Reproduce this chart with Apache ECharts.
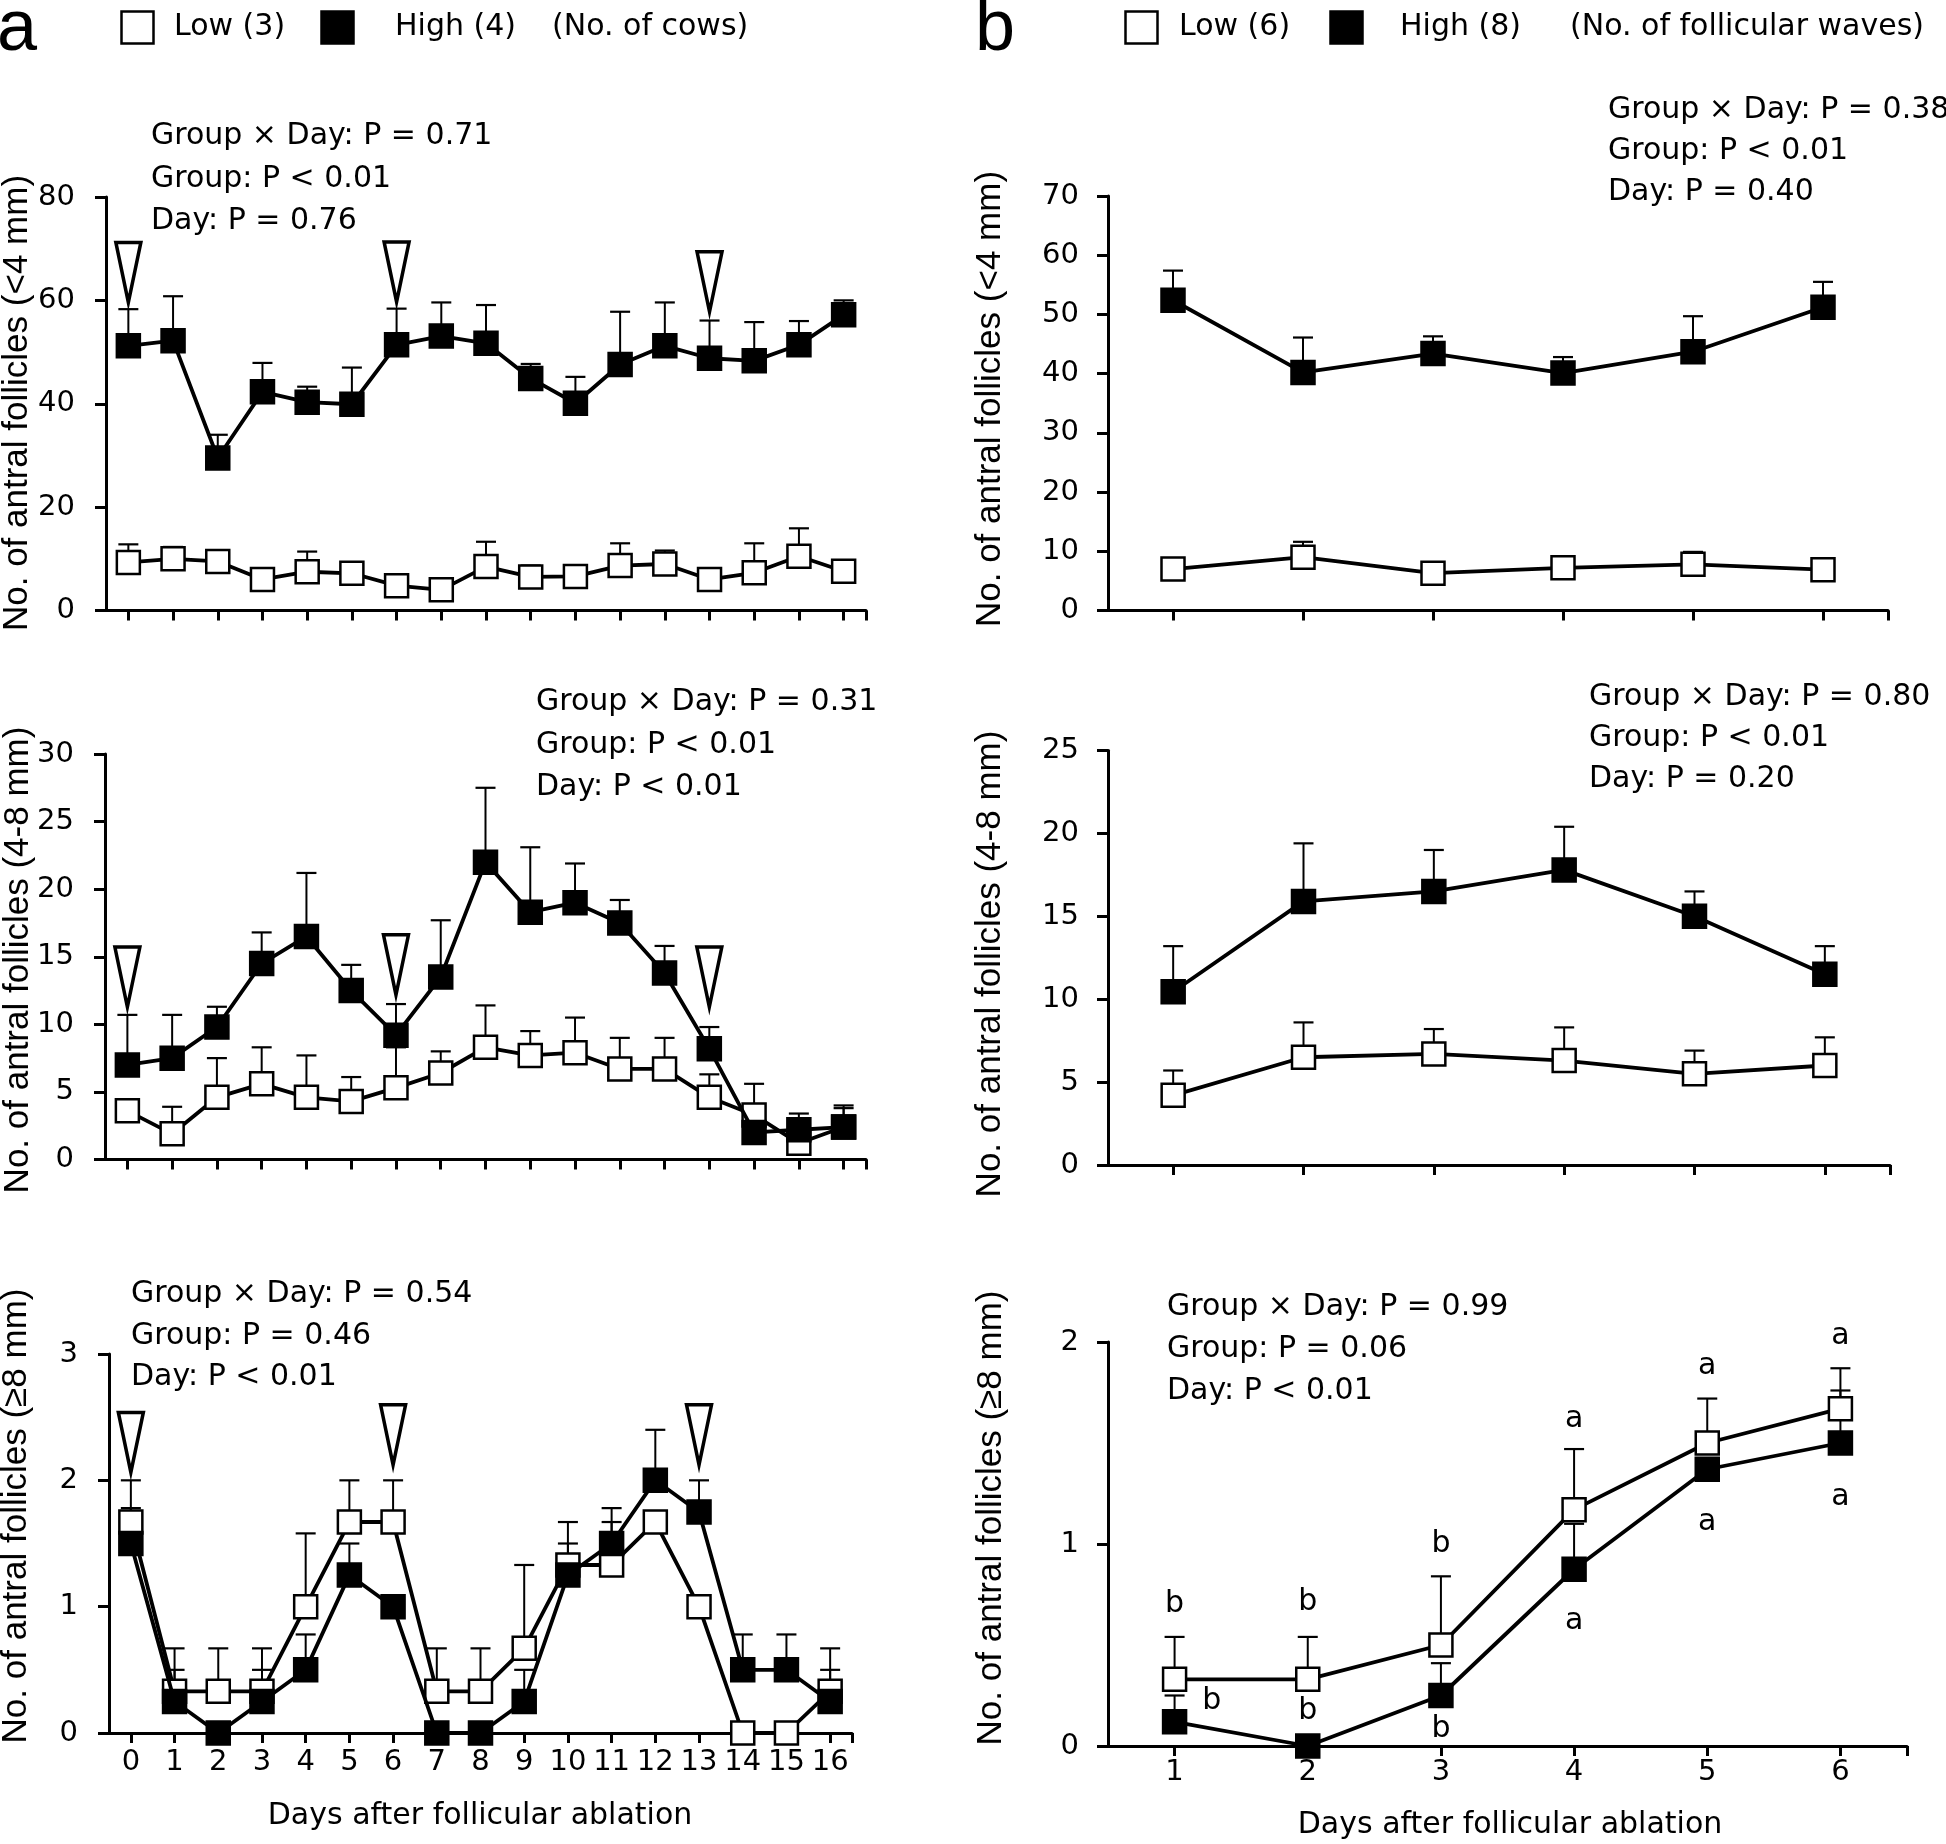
<!DOCTYPE html>
<html><head><meta charset="utf-8">
<script src="https://cdn.jsdelivr.net/npm/echarts@6/dist/echarts.min.js"></script>
<style>html,body{margin:0;padding:0;background:#fff}#c{width:1946px;height:1844px}</style>
</head><body><div id="c"></div>
<script>
// ---------- DATA ----------
const daysA = [0,1,2,3,4,5,6,7,8,9,10,11,12,13,14,15,16];
const daysB = [1,2,3,4,5,6];
const ablationDays = [0,6,13];

// Panel a, <4 mm
const a1Low     = [9.3,10.0,9.5,6.0,7.5,7.2,4.8,4.0,8.5,6.5,6.6,8.7,9.0,6.0,7.3,10.5,7.6];
const a1LowTop  = [12.8,12.3,10.6,6.0,11.4,7.2,6.3,4.0,13.3,8.7,8.5,13.0,11.6,7.0,13.0,15.9,8.0];
const a1High    = [51.2,52.2,29.5,42.3,40.3,39.9,51.4,53.1,51.7,44.9,40.1,47.6,51.2,48.8,48.3,51.4,57.2];
const a1HighTop = [58.3,60.8,34.0,47.9,43.3,47.0,58.4,59.6,59.1,47.7,45.2,57.8,59.6,56.1,55.8,56.0,60.0];
const a1Arrow   = [65.4,65.5,63.6];

// Panel a, 4-8 mm
const a2Low     = [3.6,1.9,4.6,5.6,4.6,4.3,5.3,6.4,8.3,7.7,7.9,6.7,6.7,4.6,3.3,1.2,2.4];
const a2LowTop  = [3.6,3.9,7.5,8.3,7.7,6.1,8.3,8.0,11.4,9.5,10.5,9.0,9.0,6.3,5.6,1.2,3.8];
const a2High    = [7.0,7.5,9.8,14.5,16.5,12.5,9.2,13.5,22.0,18.3,19.0,17.5,13.8,8.2,2.0,2.2,2.4];
const a2HighTop = [10.7,10.7,11.3,16.8,21.2,14.4,11.5,17.7,27.5,23.1,21.9,19.2,15.8,9.8,2.0,3.4,4.0];
const a2Arrow   = [13.5,14.4,13.5];

// Panel a, >=8 mm
const a3Low     = [1.67,0.33,0.33,0.33,1.0,1.67,1.67,0.33,0.33,0.67,1.33,1.33,1.67,1.0,0,0,0.33];
const a3LowTop  = [2.0,0.67,0.67,0.67,1.58,2.0,2.0,0.67,0.67,1.33,1.67,1.67,1.67,1.0,0,0,0.67];
const a3High    = [1.5,0.25,0,0.25,0.5,1.25,1.0,0,0,0.25,1.25,1.5,2.0,1.75,0.5,0.5,0.25];
const a3HighTop = [1.78,0.5,0,0.5,0.78,1.5,1.0,0,0,0.5,1.5,1.78,2.4,2.0,0.78,0.78,0.5];
const a3Arrow   = [2.30,2.36,2.36];

// Panel b, <4 mm
const b1Low     = [7.0,9.0,6.3,7.2,7.8,6.9];
const b1LowTop  = [7.0,11.6,6.3,8.6,9.9,8.5];
const b1High    = [52.4,40.2,43.4,40.1,43.7,51.2];
const b1HighTop = [57.4,46.1,46.3,42.8,49.7,55.5];

// Panel b, 4-8 mm
const b2Low     = [4.2,6.5,6.7,6.3,5.5,6.0];
const b2LowTop  = [5.7,8.6,8.2,8.3,6.9,7.7];
const b2High    = [10.45,15.9,16.5,17.8,15.0,11.5];
const b2HighTop = [13.2,19.4,19.0,20.4,16.5,13.2];

// Panel b, >=8 mm
const b3Low     = [0.33,0.33,0.5,1.17,1.5,1.67];
const b3LowTop  = [0.54,0.54,0.84,1.47,1.72,1.87];
const b3High    = [0.12,0,0.25,0.875,1.37,1.5];
const b3HighTop = [0.25,0,0.41,1.1,1.37,1.76];
const lettersUpperX = [1,2,3,4,5,6];
const lettersUpperY = [0.70,0.71,1.0,1.62,1.88,2.03];
const lettersUpperT = ['b','b','b','a','a','a'];
const lettersLowerX = [1.28,2,3,4,5,6];
const lettersLowerY = [0.22,0.17,0.085,0.62,1.11,1.23];
const lettersLowerT = ['b','b','b','a','a','a'];

// y-axis ranges / tick intervals
const yMax  = [80,30,3,70,25,2];
const yStep = [20,5,1,10,5,1];
const yTitles = ['No. of antral follicles (<4 mm)','No. of antral follicles (4-8 mm)','No. of antral follicles (\u22658 mm)',
                 'No. of antral follicles (<4 mm)','No. of antral follicles (4-8 mm)','No. of antral follicles (\u22658 mm)'];
const statsText = [
  ['Group \u00d7 Day: P = 0.71','Group: P < 0.01','Day: P = 0.76'],
  ['Group \u00d7 Day: P = 0.31','Group: P < 0.01','Day: P < 0.01'],
  ['Group \u00d7 Day: P = 0.54','Group: P = 0.46','Day: P < 0.01'],
  ['Group \u00d7 Day: P = 0.38','Group: P < 0.01','Day: P = 0.40'],
  ['Group \u00d7 Day: P = 0.80','Group: P < 0.01','Day: P = 0.20'],
  ['Group \u00d7 Day: P = 0.99','Group: P = 0.06','Day: P < 0.01']
];
const xTitle = 'Days after follicular ablation';

// ---------- LAYOUT ----------
const FONT = 'DejaVu Sans';
const grids = [
  {left:106, top:197, width:760, height:413.5},
  {left:105, top:754, width:761, height:405.5},
  {left:109, top:1354, width:743, height:379},
  {left:1108, top:196, width:780, height:414.5},
  {left:1108, top:750.5, width:782, height:414.5},
  {left:1108, top:1342, width:799, height:404}
];
const statsPos = [
  {x:151, y:[136,179,221]},
  {x:536, y:[702,745,787]},
  {x:131, y:[1294,1336,1377]},
  {x:1608, y:[110,151,192]},
  {x:1589, y:[697,738,779]},
  {x:1167, y:[1307,1349,1391]}
];
const titlePos = [
  {x:17, y:403},{x:18, y:960},{x:16, y:1516},
  {x:990, y:399},{x:990, y:964},{x:991, y:1518}
];

const xAxes = [], yAxes = [], series = [];
const axisLineStyle = {color:'#000', width:3};

for (let g = 0; g < 6; g++) {
  const isA = g < 3;
  const bottom = (g === 2 || g === 5);
  const days = isA ? daysA : daysB;
  const xmin = isA ? -0.5 : 0.5, xmax = isA ? 16.5 : 6.5;
  xAxes.push({
    gridIndex:g, type:'value', min:xmin, max:xmax,
    axisLine:{show:true, onZero:false, lineStyle:axisLineStyle},
    axisTick:{show:true, length:10, lineStyle:{color:'#000', width:3}, customValues: days.concat([xmax])},
    axisLabel:{show:bottom, customValues: days, margin: isA ? 15 : 12, color:'#000', fontSize:29, fontFamily:FONT},
    splitLine:{show:false}
  });
  yAxes.push({
    gridIndex:g, type:'value', min:0, max:yMax[g], interval:yStep[g],
    axisLine:{show:true, onZero:false, lineStyle:axisLineStyle},
    axisTick:{show:true, length:11, lineStyle:{color:'#000', width:3}},
    axisLabel:{show:true, margin: isA ? 31 : 29, color:'#000', fontSize:29, fontFamily:FONT},
    splitLine:{show:false}
  });
}

function errSeries(g, xs, means, tops) {
  return {
    type:'custom', xAxisIndex:g, yAxisIndex:g, z:2, silent:true,
    data: xs.map((x,i)=>[x, means[i], tops[i]]),
    encode:{x:0, y:[1,2]},
    renderItem:(params, api) => {
      const x = api.value(0), m = api.value(1), t = api.value(2);
      if (t - m <= 0) return {type:'group', children:[]};
      const p0 = api.coord([x, m]), p1 = api.coord([x, t]);
      return {type:'group', children:[
        {type:'line', shape:{x1:p0[0], y1:p0[1], x2:p1[0], y2:p1[1]}, style:{stroke:'#000', lineWidth:2}},
        {type:'line', shape:{x1:p1[0]-10, y1:p1[1], x2:p1[0]+10, y2:p1[1]}, style:{stroke:'#000', lineWidth:2.2}}
      ]};
    }
  };
}
function lineSeries(g, name, xs, vals, fill, z) {
  return {
    type:'line', name, xAxisIndex:g, yAxisIndex:g, z, silent:true,
    data: xs.map((x,i)=>[x, vals[i]]),
    symbol:'rect', symbolSize:23,
    itemStyle:{color:fill, borderColor:'#000', borderWidth:2.5},
    lineStyle:{color:'#000', width:3.8},
    emphasis:{disabled:true}
  };
}
function arrowSeries(g, vals) {
  return {
    type:'custom', xAxisIndex:g, yAxisIndex:g, z:5, silent:true,
    data: ablationDays.map((d,i)=>[d, vals[i]]),
    renderItem:(params, api) => {
      const c = api.coord([api.value(0), api.value(1)]);
      return {type:'polygon', shape:{points:[[c[0]-12.5, c[1]-30],[c[0]+12.5, c[1]-30],[c[0], c[1]+30]]},
        style:{fill:'#fff', stroke:'#000', lineWidth:3.5, lineJoin:'miter', miterLimit:20}};
    }
  };
}
function letterSeries(g, xs, ys, texts) {
  return {
    type:'custom', xAxisIndex:g, yAxisIndex:g, z:6, silent:true,
    data: xs.map((x,i)=>[x, ys[i]]),
    renderItem:(params, api) => {
      const p = api.coord([api.value(0), api.value(1)]);
      return {type:'text', x:p[0], y:p[1], style:{text:texts[params.dataIndex], fill:'#000',
        fontSize:30, fontFamily:FONT, align:'center', verticalAlign:'middle'}};
    }
  };
}

const panels = [
  [daysA, a1Low, a1LowTop, a1High, a1HighTop, a1Arrow],
  [daysA, a2Low, a2LowTop, a2High, a2HighTop, a2Arrow],
  [daysA, a3Low, a3LowTop, a3High, a3HighTop, a3Arrow],
  [daysB, b1Low, b1LowTop, b1High, b1HighTop, null],
  [daysB, b2Low, b2LowTop, b2High, b2HighTop, null],
  [daysB, b3Low, b3LowTop, b3High, b3HighTop, null]
];
panels.forEach((p, g) => {
  const [xs, lo, loT, hi, hiT, arr] = p;
  series.push(errSeries(g, xs, lo, loT));
  series.push(errSeries(g, xs, hi, hiT));
  series.push(lineSeries(g, 'Low', xs, lo, '#fff', 3));
  series.push(lineSeries(g, 'High', xs, hi, '#000', 4));
  if (arr) series.push(arrowSeries(g, arr));
});
series.push(letterSeries(5, lettersUpperX, lettersUpperY, lettersUpperT));
series.push(letterSeries(5, lettersLowerX, lettersLowerY, lettersLowerT));

// ---------- GRAPHICS (text, legends) ----------
const graphic = [];
function txt(text, x, y, size, family, align, extra) {
  graphic.push(Object.assign({type:'text', x, y, silent:true,
    style:{text, fill:'#000', fontSize:size, fontFamily:family, align:align||'left', verticalAlign:'middle'}}, extra||{}));
}
// panel letters
txt('a', -3, 30, 72, 'Liberation Sans');
txt('b', 975, 30, 72, 'Liberation Sans');
// legends
function legendSquare(cx, cy, fill) {
  graphic.push({type:'rect', silent:true, shape:{x:cx-16, y:cy-16, width:32, height:32},
    style:{fill, stroke:'#000', lineWidth:2.5}});
}
legendSquare(137.5, 27.5, '#fff'); txt('Low (3)', 174, 27, 30, FONT);
legendSquare(337.5, 27.5, '#000'); txt('High (4)', 395, 27, 30, FONT);
txt('(No. of cows)', 552, 27, 30, FONT);
legendSquare(1141.5, 27.5, '#fff'); txt('Low (6)', 1179, 27, 30, FONT);
legendSquare(1346.5, 27.5, '#000'); txt('High (8)', 1400, 27, 30, FONT);
txt('(No. of follicular waves)', 1570, 27, 30, FONT);
// stats
statsText.forEach((lines, g) => {
  lines.forEach((l, i) => txt(l, statsPos[g].x, statsPos[g].y[i], 30, FONT));
});
// y titles
yTitles.forEach((t, g) => {
  txt(t, titlePos[g].x, titlePos[g].y, 35, 'Liberation Sans', 'center', {rotation: Math.PI/2});
});
// x titles
txt(xTitle, 480, 1816, 30, FONT, 'center');
txt(xTitle, 1510, 1825, 30, FONT, 'center');

const chart = echarts.init(document.getElementById('c'), null, {renderer:'canvas'});
chart.setOption({
  animation:false,
  backgroundColor:'#fff',
  grid: grids.map(g => Object.assign({containLabel:false, outerBoundsMode:'none'}, g)),
  xAxis: xAxes, yAxis: yAxes, series, graphic
});
</script></body></html>
